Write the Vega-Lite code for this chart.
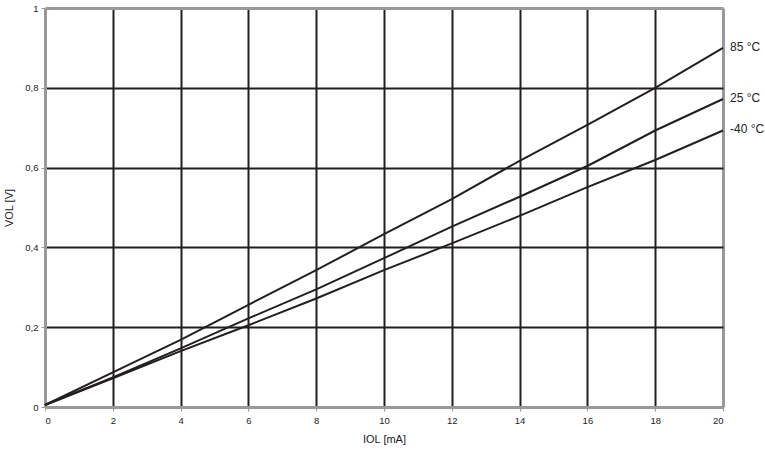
{
  "$schema": "https://vega.github.io/schema/vega-lite/v6.json",
  "width": 678,
  "height": 399,
  "autosize": {"type": "none"},
  "padding": {"left": 45, "top": 8, "right": 42, "bottom": 44},
  "background": "white",
  "config": {
    "view": {"stroke": null},
    "font": "Liberation Sans"
  },
  "data": {
    "values": [
      {"I": 0, "V": 0.005, "T": "85 °C"},
      {"I": 2, "V": 0.087, "T": "85 °C"},
      {"I": 4, "V": 0.168, "T": "85 °C"},
      {"I": 6, "V": 0.256, "T": "85 °C"},
      {"I": 8, "V": 0.343, "T": "85 °C"},
      {"I": 10, "V": 0.433, "T": "85 °C"},
      {"I": 12, "V": 0.521, "T": "85 °C"},
      {"I": 14, "V": 0.617, "T": "85 °C"},
      {"I": 16, "V": 0.707, "T": "85 °C"},
      {"I": 18, "V": 0.800, "T": "85 °C"},
      {"I": 20, "V": 0.900, "T": "85 °C"},
      {"I": 0, "V": 0.005, "T": "25 °C"},
      {"I": 2, "V": 0.074, "T": "25 °C"},
      {"I": 4, "V": 0.147, "T": "25 °C"},
      {"I": 6, "V": 0.222, "T": "25 °C"},
      {"I": 8, "V": 0.295, "T": "25 °C"},
      {"I": 10, "V": 0.373, "T": "25 °C"},
      {"I": 12, "V": 0.452, "T": "25 °C"},
      {"I": 14, "V": 0.527, "T": "25 °C"},
      {"I": 16, "V": 0.604, "T": "25 °C"},
      {"I": 18, "V": 0.693, "T": "25 °C"},
      {"I": 20, "V": 0.772, "T": "25 °C"},
      {"I": 0, "V": 0.005, "T": "-40 °C"},
      {"I": 2, "V": 0.072, "T": "-40 °C"},
      {"I": 4, "V": 0.140, "T": "-40 °C"},
      {"I": 6, "V": 0.205, "T": "-40 °C"},
      {"I": 8, "V": 0.272, "T": "-40 °C"},
      {"I": 10, "V": 0.343, "T": "-40 °C"},
      {"I": 12, "V": 0.410, "T": "-40 °C"},
      {"I": 14, "V": 0.479, "T": "-40 °C"},
      {"I": 16, "V": 0.551, "T": "-40 °C"},
      {"I": 18, "V": 0.619, "T": "-40 °C"},
      {"I": 20, "V": 0.693, "T": "-40 °C"}
    ]
  },
  "encoding": {
    "x": {
      "field": "I", "type": "quantitative",
      "scale": {"domain": [0, 20], "nice": false},
      "axis": {
        "values": [0, 2, 4, 6, 8, 10, 12, 14, 16, 18, 20],
        "title": "IOL [mA]",
        "titleFont": "Liberation Sans", "titleFontSize": 11, "titleFontWeight": "normal", "titleColor": "#222",
        "titlePadding": 9,
        "labelFont": "Liberation Sans", "labelFontSize": 9.5, "labelColor": "#222", "labelPadding": 4,
        "tickColor": "#999", "tickSize": 4, "tickWidth": 1,
        "domainColor": "#999", "domainWidth": 3,
        "grid": true,
        "gridColor": {"condition": {"test": "datum.value == 0 || datum.value == 20", "value": "#999"}, "value": "#231f20"},
        "gridWidth": {"condition": {"test": "datum.value == 0 || datum.value == 20", "value": 3}, "value": 2},
        "gridOpacity": 1
      }
    },
    "y": {
      "field": "V", "type": "quantitative",
      "scale": {"domain": [0, 1], "nice": false},
      "axis": {
        "values": [0, 0.2, 0.4, 0.6, 0.8, 1],
        "labelExpr": "datum.value == 0 ? '0' : datum.value == 1 ? '1' : replace(format(datum.value, '.1f'), '.', ',')",
        "title": "VOL [V]",
        "titleFont": "Liberation Sans", "titleFontSize": 11, "titleFontWeight": "normal", "titleColor": "#222",
        "titlePadding": 10,
        "labelFont": "Liberation Sans", "labelFontSize": 9.5, "labelColor": "#222", "labelPadding": 3,
        "tickColor": "#999", "tickSize": 4, "tickWidth": 1,
        "domainColor": "#999", "domainWidth": 3,
        "grid": true,
        "gridColor": {"condition": {"test": "datum.value == 0 || datum.value == 1", "value": "#999"}, "value": "#231f20"},
        "gridWidth": {"condition": {"test": "datum.value == 0 || datum.value == 1", "value": 3}, "value": 2},
        "gridOpacity": 1
      }
    }
  },
  "layer": [
    {
      "mark": {"type": "line", "color": "#231f20", "strokeWidth": 2},
      "encoding": {"detail": {"field": "T"}}
    },
    {
      "transform": [{"filter": "datum.I == 20"}],
      "mark": {"type": "text", "align": "left", "dx": 7, "dy": -1, "fontSize": 12, "font": "Liberation Sans", "color": "#222", "clip": false},
      "encoding": {"text": {"field": "T"}}
    }
  ]
}
